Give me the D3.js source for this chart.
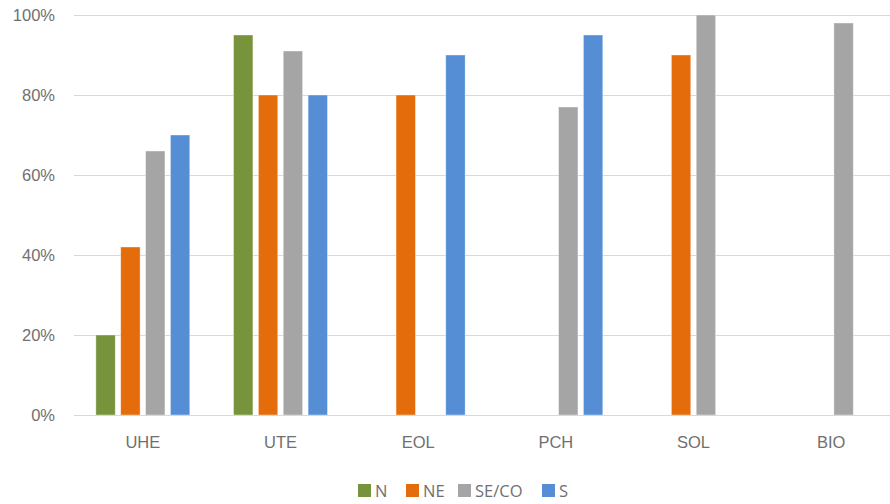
<!DOCTYPE html>
<html>
<head>
<meta charset="utf-8">
<script src="https://cdn.jsdelivr.net/npm/d3@7"></script>
<style>
  html, body { margin: 0; padding: 0; background: #fff; }
  svg { display: block; font-family: "Open Sans", "Noto Sans", sans-serif; }
</style>
</head>
<body>
<svg id="chart" width="890" height="504"></svg>
<script>
// Source types and regions
const categories = ["UHE", "UTE", "EOL", "PCH", "SOL", "BIO"];
const series = ["N", "NE", "SE/CO", "S"];
const colors = ["#77933C", "#E46C0A", "#A5A5A5", "#558ED5"];

// Share per region (fraction), null where no bar exists
const valuesN    = [0.20, 0.95, null, null, null, null];
const valuesNE   = [0.42, 0.80, 0.80, null, 0.90, null];
const valuesSECO = [0.66, 0.91, null, 0.77, 1.00, 0.98];
const valuesS    = [0.70, 0.80, 0.90, 0.95, null, null];
const yTicks = [0, 0.2, 0.4, 0.6, 0.8, 1.0];

const seriesValues = [valuesN, valuesNE, valuesSECO, valuesS];

const svg = d3.select("#chart");
const width = 890;
const plot = { left: 74, right: 900, top: 15, bottom: 415 };

const x0 = d3.scaleBand().domain(categories).range([plot.left, plot.right]);
const x1 = d3.scaleBand().domain(series).range([0, x0.bandwidth()])
  .paddingInner(0.22).paddingOuter(0.88);
const y = d3.scaleLinear().domain([0, 1]).range([plot.bottom, plot.top]);
const color = d3.scaleOrdinal().domain(series).range(colors);

// Horizontal gridlines and percentage labels
const yAxis = d3.axisLeft(y).tickValues(yTicks)
  .tickFormat(d3.format(".0%")).tickSize(-(width - plot.left)).tickPadding(19);
const gy = svg.append("g").attr("transform", `translate(${plot.left},0)`).call(yAxis);
gy.select(".domain").remove();
gy.selectAll(".tick line").attr("stroke", "#d9d9d9").attr("stroke-width", 1);
gy.selectAll(".tick text").attr("fill", "#707070").attr("font-size", 16.5);

// Bars
const rows = [];
categories.forEach((c, i) => {
  series.forEach((s, j) => {
    const v = seriesValues[j][i];
    if (v !== null) rows.push({ c, s, v });
  });
});
svg.append("g").selectAll("rect").data(rows).join("rect")
  .attr("x", d => x0(d.c) + x1(d.s))
  .attr("y", d => y(d.v))
  .attr("width", x1.bandwidth())
  .attr("height", d => y(0) - y(d.v))
  .attr("fill", d => color(d.s))
  .attr("stroke", "#ffffff")
  .attr("stroke-opacity", 0.5)
  .attr("stroke-width", 0.75);

// Category axis
const xAxis = d3.axisBottom(x0).tickSize(0).tickPadding(21);
const gx = svg.append("g").attr("transform", `translate(0,${plot.bottom})`).call(xAxis);
gx.select(".domain").attr("stroke", "#d9d9d9").attr("d", `M${plot.left},0.5H${width}`);
gx.selectAll(".tick text").attr("fill", "#707070").attr("font-size", 16.5);

// Legend
const legendItems = [
  { s: "N", x: 358 },
  { s: "NE", x: 406 },
  { s: "SE/CO", x: 458 },
  { s: "S", x: 542 }
];
const lg = svg.append("g");
legendItems.forEach(it => {
  const g = lg.append("g").attr("transform", `translate(${it.x},484)`);
  g.append("rect").attr("width", 13).attr("height", 13).attr("fill", color(it.s));
  g.append("text").attr("x", 17).attr("y", 13).attr("fill", "#707070")
    .attr("font-size", 16.5).text(it.s);
});
</script>
</body>
</html>
